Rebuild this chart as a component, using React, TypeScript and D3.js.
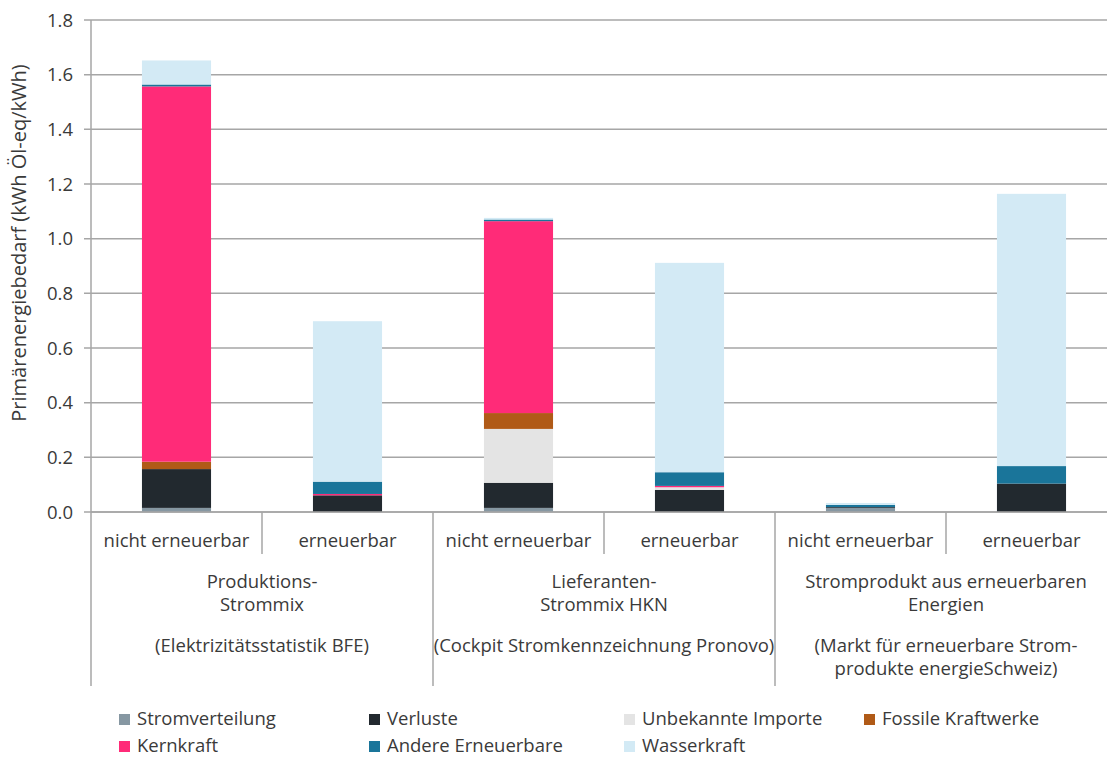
import * as React from 'react'
import * as d3 from 'd3'

// bar order: group by group, "nicht erneuerbar" then "erneuerbar"
const barLabels = ['nicht erneuerbar', 'erneuerbar', 'nicht erneuerbar', 'erneuerbar', 'nicht erneuerbar', 'erneuerbar']
const groupLines = [
	['Produktions-', 'Strommix', '', '(Elektrizitätsstatistik BFE)'],
	['Lieferanten-', 'Strommix HKN', '', '(Cockpit Stromkennzeichnung Pronovo)'],
	['Stromprodukt aus erneuerbaren', 'Energien', '', '(Markt für erneuerbare Strom-', 'produkte energieSchweiz)'],
]

const seriesNames = ['Stromverteilung', 'Verluste', 'Unbekannte Importe', 'Fossile Kraftwerke', 'Kernkraft', 'Andere Erneuerbare', 'Wasserkraft']
const seriesColors = ['#8697a2', '#22292f', '#e4e4e4', '#b05a17', '#ff2b78', '#1a759a', '#d3eaf5']

const stromverteilung = [0.015, 0, 0.015, 0, 0.015, 0]
const verluste = [0.142, 0.061, 0.092, 0.0805, 0.003, 0.104]
const unbekannteImporte = [0, 0, 0.197, 0.01, 0, 0]
const fossileKraftwerke = [0.027, 0, 0.058, 0, 0, 0]
const kernkraft = [1.373, 0.005, 0.702, 0.005, 0, 0]
const andereErneuerbare = [0.007, 0.045, 0.006, 0.05, 0.008, 0.064]
const wasserkraft = [0.088, 0.587, 0.006, 0.766, 0.007, 0.996]

const yTicks = [0, 0.2, 0.4, 0.6, 0.8, 1.0, 1.2, 1.4, 1.6, 1.8]

const W = 1107
const H = 758
const FONT = '"Open Sans", sans-serif'
const FS = 18.5
const TEXT = '#3a3a3a'
const GRID = '#a6a6a6'

const App: React.FC = () => {
	const ref = React.useRef<SVGSVGElement>(null)

	React.useEffect(() => {
		const svg = d3.select(ref.current)
		svg.selectAll('*').remove()

		const left = 91, top = 20, bottom = 512
		const y = d3.scaleLinear().domain([0, 1.8]).range([bottom, top])
		const x = d3.scaleBand<number>()
			.domain(d3.range(barLabels.length))
			.range([left, 1117])
			.paddingInner(0.596)
			.paddingOuter(0.298)
		const step = x.step()

		const allSeries = [stromverteilung, verluste, unbekannteImporte, fossileKraftwerke, kernkraft, andereErneuerbare, wasserkraft]
		const rows = barLabels.map((_, i) => {
			const r: any = { i }
			seriesNames.forEach((n, k) => r[n] = allSeries[k][i])
			return r
		})
		const stacked = d3.stack().keys(seriesNames)(rows)

		// gridlines + ticks
		svg.append('g')
			.selectAll('line')
			.data(yTicks)
			.enter()
			.append('line')
			.attr('x1', left - 7)
			.attr('x2', W)
			.attr('y1', d => y(d))
			.attr('y2', d => y(d))
			.attr('stroke', GRID)
			.attr('stroke-width', 1.5)

		svg.append('g')
			.selectAll('text')
			.data(yTicks)
			.enter()
			.append('text')
			.attr('x', 73)
			.attr('y', d => y(d) + 6.5)
			.attr('text-anchor', 'end')
			.attr('font-family', FONT)
			.attr('font-size', FS)
			.attr('fill', TEXT)
			.text(d => d.toFixed(1))

		svg.append('text')
			.attr('transform', `translate(26, 243) rotate(-90)`)
			.attr('text-anchor', 'middle')
			.attr('font-family', FONT)
			.attr('font-size', 20)
			.attr('fill', TEXT)
			.text('Primärenergiebedarf (kWh Öl-eq/kWh)')

		// bars
		svg.append('g')
			.selectAll('g')
			.data(stacked)
			.enter()
			.append('g')
			.attr('fill', (_, k) => seriesColors[k])
			.selectAll('rect')
			.data(d => d)
			.enter()
			.append('rect')
			.attr('x', d => x((d.data as any).i)!)
			.attr('width', x.bandwidth())
			.attr('y', d => y(d[1]))
			.attr('height', d => Math.max(0, y(d[0]) - y(d[1])))

		// category axis lines
		const axisG = svg.append('g').attr('stroke', GRID).attr('stroke-width', 1.5)
		axisG.append('line')
			.attr('x1', left).attr('x2', left)
			.attr('y1', top).attr('y2', 686)
		axisG.append('line')
			.attr('x1', left).attr('x2', W)
			.attr('y1', bottom).attr('y2', bottom)
		barLabels.forEach((_, i) => {
			const xs = x(i)! - step * 0.298
			const isGroupStart = i % 2 === 0
			if (i > 0) {
				axisG.append('line')
					.attr('x1', xs).attr('x2', xs)
					.attr('y1', bottom).attr('y2', isGroupStart ? 686 : 554)
			}
		})

		svg.append('g')
			.selectAll('text')
			.data(barLabels)
			.enter()
			.append('text')
			.attr('x', (_, i) => x(i)! + x.bandwidth() / 2)
			.attr('y', 547)
			.attr('text-anchor', 'middle')
			.attr('font-family', FONT)
			.attr('font-size', FS)
			.attr('fill', TEXT)
			.text(d => d)

		groupLines.forEach((lines, g) => {
			const cx = x(g * 2)! + x.bandwidth() / 2 + step / 2
			const t = svg.append('text')
				.attr('text-anchor', 'middle')
				.attr('font-family', FONT)
				.attr('font-size', FS)
				.attr('fill', TEXT)
			let yy = 588
			lines.forEach(l => {
				if (l === '') { yy += 18; return }
				t.append('tspan').attr('x', cx).attr('y', yy).text(l)
				yy += 23
			})
		})

		// legend
		const legendX = [119, 369, 624, 864]
		const legendY = [719, 746]
		seriesNames.forEach((n, k) => {
			const lx = legendX[k % 4]
			const ly = legendY[Math.floor(k / 4)]
			svg.append('rect')
				.attr('x', lx).attr('y', ly - 5)
				.attr('width', 11).attr('height', 11)
				.attr('fill', seriesColors[k])
			svg.append('text')
				.attr('x', lx + 18)
				.attr('y', ly + 6)
				.attr('font-family', FONT)
				.attr('font-size', FS)
				.attr('fill', TEXT)
				.text(n)
		})
	})

	return (
		<svg ref={ref} width={W} height={H} style={{ position: 'absolute', left: 0, top: 0, background: '#fff' }} />
	)
}

export default App
